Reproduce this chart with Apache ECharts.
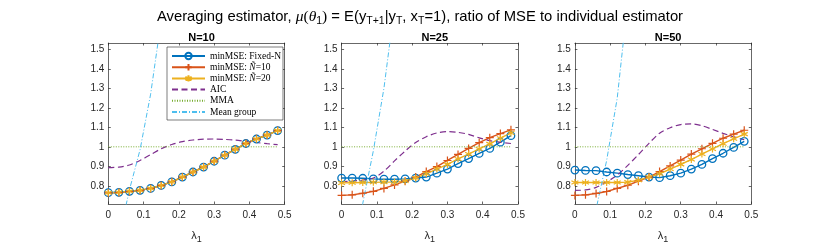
<!DOCTYPE html>
<html>
<head>
<meta charset="utf-8">
<script src="https://cdn.jsdelivr.net/npm/echarts@6/dist/echarts.min.js"></script>
<style>html,body{margin:0;padding:0;background:#fff}#c{width:830px;height:249px}</style>
</head>
<body>
<div id="c"></div>
<script>
// ---- data ----
const lambda = [0,0.03,0.06,0.09,0.12,0.15,0.18,0.21,0.24,0.27,0.30,0.33,0.36,0.39,0.42,0.45,0.48];
const panelTitles = ['N=10','N=25','N=50'];
const xTicks = [0,0.1,0.2,0.3,0.4,0.5];
const yTicks = [0.8,0.9,1.0,1.1,1.2,1.3,1.4,1.5];

const fixedN10 = [0.765,0.767,0.772,0.777,0.787,0.802,0.820,0.845,0.871,0.896,0.926,0.957,0.987,1.017,1.040,1.060,1.083];
const nbar10_10 = [0.764,0.766,0.771,0.777,0.787,0.802,0.821,0.845,0.871,0.897,0.927,0.958,0.988,1.017,1.041,1.061,1.083];
const nbar20_10 = [0.765,0.767,0.772,0.777,0.787,0.802,0.820,0.845,0.871,0.896,0.926,0.957,0.987,1.017,1.040,1.060,1.083];
const aic10 = [0.893,0.896,0.907,0.930,0.960,0.990,1.012,1.027,1.035,1.039,1.040,1.038,1.034,1.028,1.022,1.016,1.011];
const mg10 = [0.30,0.537,0.78,0.985,1.27,1.65];

const fixedN25 = [0.840,0.840,0.839,0.836,0.834,0.834,0.836,0.840,0.845,0.865,0.886,0.914,0.940,0.966,0.992,1.024,1.057];
const nbar10_25 = [0.751,0.754,0.762,0.772,0.787,0.805,0.824,0.845,0.873,0.899,0.930,0.961,0.992,1.021,1.047,1.068,1.087];
const nbar20_25 = [0.815,0.816,0.817,0.818,0.819,0.820,0.825,0.840,0.862,0.886,0.910,0.938,0.963,0.989,1.015,1.044,1.071];
const aic25 = [0.821,0.824,0.830,0.840,0.875,0.928,0.978,1.022,1.052,1.071,1.078,1.074,1.064,1.046,1.032,1.023,1.017];
const mg25 = [0.20,0.45,0.71,0.98,1.30,1.72];

const fixedN50 = [0.881,0.879,0.878,0.871,0.865,0.858,0.852,0.845,0.842,0.852,0.865,0.886,0.910,0.940,0.967,0.997,1.028];
const nbar10_50 = [0.751,0.754,0.761,0.771,0.787,0.803,0.824,0.845,0.873,0.902,0.932,0.963,0.990,1.018,1.044,1.065,1.085];
const nbar20_50 = [0.817,0.817,0.817,0.817,0.817,0.819,0.829,0.845,0.862,0.886,0.910,0.935,0.963,0.989,1.016,1.041,1.065];
const aic50 = [0.777,0.779,0.792,0.820,0.855,0.905,0.960,1.018,1.070,1.098,1.114,1.118,1.108,1.089,1.069,1.051,1.036];
const mg50 = [0.20,0.43,0.68,0.93,1.25,1.75];

const mma = [1,1,1,1,1,1,1,1,1,1,1,1,1,1,1,1,1];

const panels = [
  {fixed: fixedN10, n10: nbar10_10, n20: nbar20_10, aic: aic10, mg: mg10},
  {fixed: fixedN25, n10: nbar10_25, n20: nbar20_25, aic: aic25, mg: mg25},
  {fixed: fixedN50, n10: nbar10_50, n20: nbar20_50, aic: aic50, mg: mg50}
];
const names = ['minMSE: Fixed-N','minMSE: Ñ=10','minMSE: Ñ=20','AIC','MMA','Mean group'];

// ---- style ----
const C = {blue:'#0072BD', red:'#D95319', yellow:'#EDB120', purple:'#7E2F8E', green:'#77AC30', cyan:'#4DBEEE'};
const AX = '#262626';
const FONT = '"Liberation Sans", Arial, Helvetica, sans-serif';
const SERIF = '"Liberation Serif", "Times New Roman", serif';
const lefts = [108.3, 341.6, 574.9];
const W = 176.4, TOP = 43, H = 168.7;
const YMIN = 0.707, YMAX = 1.532;
const CLEAR = 'rgba(0,0,0,0)';

const pair = arr => arr.map((v,i)=>[lambda[i], v]);
const fmt = v => String(+(+v).toFixed(2));

const grids = [], xAxes = [], yAxes = [], series = [], titles = [];
titles.push({
  text: '{a|Averaging estimator, }{m|μ}{p|(}{m|θ}{s|1}{p|)}{a| = E(y}{s|T+1}{a||y}{s|T}{a|, x}{s|T}{a|=1), ratio of MSE to individual estimator}',
  left: 415, top: 2, textAlign: 'center',
  textStyle: {
    fontWeight: 'normal',
    rich: {
      a: {fontFamily: FONT, fontSize: 14.8, fontWeight: 'normal', color: '#000', lineHeight: 20},
      m: {fontFamily: SERIF, fontStyle: 'italic', fontWeight: 'normal', fontSize: 15.5, color: '#000', lineHeight: 20},
      p: {fontFamily: SERIF, fontSize: 15.5, fontWeight: 'normal', color: '#000', lineHeight: 20},
      s: {fontFamily: FONT, fontSize: 10.5, fontWeight: 'normal', color: '#000', lineHeight: 20, padding: [9,0,0,0]}
    }
  }
});

const symPlus = 'path://M0,-1L0,1M-1,0L1,0';
const symStar = 'path://M0,-1L0,1M-0.866,-0.5L0.866,0.5M-0.866,0.5L0.866,-0.5';

for (let k = 0; k < 3; k++) {
  grids.push({left: lefts[k], top: TOP, width: W, height: H, containLabel: false});
  titles.push({text: panelTitles[k], left: lefts[k] + W/2, top: 27, textAlign: 'center',
    textStyle: {fontFamily: FONT, fontSize: 11, fontWeight: 'bold', color: '#000'}});
}
const axLine = {show: true, onZero: false, lineStyle: {color: AX, width: 0.7}};
for (let k = 0; k < 3; k++) {
  xAxes.push({type: 'value', gridIndex: k, min: 0, max: 0.5, position: 'bottom',
    axisLine: axLine, splitLine: {show: false},
    axisTick: {show: true, inside: true, length: 2.5, lineStyle: {color: AX, width: 0.7}, customValues: xTicks},
    axisLabel: {color: AX, fontFamily: FONT, fontSize: 10, margin: 6, customValues: xTicks, formatter: fmt, showMaxLabel: true, showMinLabel: true},
    name: '{l|λ}{s|1}', nameLocation: 'middle', nameGap: 24,
    nameTextStyle: {rich: {l: {fontFamily: FONT, fontSize: 11, color: AX, lineHeight: 16}, s: {fontFamily: FONT, fontSize: 9, color: AX, lineHeight: 16, padding: [7,0,0,0]}}}
  });
}
for (let k = 0; k < 3; k++) {
  xAxes.push({type: 'value', gridIndex: k, min: 0, max: 0.5, position: 'top',
    axisLine: axLine, splitLine: {show: false},
    axisTick: {show: true, inside: true, length: 2.5, lineStyle: {color: AX, width: 0.7}, customValues: xTicks},
    axisLabel: {show: false}});
}
for (let k = 0; k < 3; k++) {
  yAxes.push({type: 'value', gridIndex: k, min: YMIN, max: YMAX, position: 'left',
    axisLine: axLine, splitLine: {show: false},
    axisTick: {show: true, inside: true, length: 2.5, lineStyle: {color: AX, width: 0.7}, customValues: yTicks},
    axisLabel: {color: AX, fontFamily: FONT, fontSize: 10, margin: 4, customValues: yTicks, formatter: fmt}});
}
for (let k = 0; k < 3; k++) {
  yAxes.push({type: 'value', gridIndex: k, min: YMIN, max: YMAX, position: 'right',
    axisLine: axLine, splitLine: {show: false},
    axisTick: {show: true, inside: true, length: 2.5, lineStyle: {color: AX, width: 0.7}, customValues: yTicks},
    axisLabel: {show: false}});
}

for (let k = 0; k < 3; k++) {
  const p = panels[k];
  const base = {type: 'line', xAxisIndex: k, yAxisIndex: k, animation: false, clip: true, silent: true};
  series.push(Object.assign({}, base, {name: names[0], data: pair(p.fixed),
    symbol: 'circle', symbolSize: 7.5, showSymbol: true,
    lineStyle: {color: C.blue, width: 1.4},
    itemStyle: {color: CLEAR, borderColor: C.blue, borderWidth: 1.3}}));
  series.push(Object.assign({}, base, {name: names[1], data: pair(p.n10),
    symbol: symPlus, symbolSize: 8, showSymbol: true,
    lineStyle: {color: C.red, width: 1.4},
    itemStyle: {color: CLEAR, borderColor: C.red, borderWidth: 1.2}}));
  series.push(Object.assign({}, base, {name: names[2], data: pair(p.n20),
    symbol: symStar, symbolSize: 7, showSymbol: true,
    lineStyle: {color: C.yellow, width: 1.4},
    itemStyle: {color: CLEAR, borderColor: C.yellow, borderWidth: 1.2}}));
  series.push(Object.assign({}, base, {name: names[3], data: pair(p.aic), smooth: 0.3,
    symbol: 'circle', symbolSize: 0, showSymbol: false,
    lineStyle: {color: C.purple, width: 1.2, type: [6,3.5]}, itemStyle: {color: CLEAR, borderWidth: 0}}));
  series.push(Object.assign({}, base, {name: names[4], data: pair(mma),
    symbol: 'circle', symbolSize: 0, showSymbol: false,
    lineStyle: {color: C.green, width: 1, type: [1,1.5]}, itemStyle: {color: CLEAR, borderWidth: 0}}));
  series.push(Object.assign({}, base, {name: names[5], data: pair(p.mg),
    symbol: 'circle', symbolSize: 0, showSymbol: false,
    lineStyle: {color: C.cyan, width: 1, type: [5,2,1,2]}, itemStyle: {color: CLEAR, borderWidth: 0}}));
}

const chart = echarts.init(document.getElementById('c'), null, {renderer: 'canvas'});
chart.setOption({
  backgroundColor: '#fff',
  animation: false,
  title: titles,
  grid: grids,
  xAxis: xAxes,
  yAxis: yAxes,
  legend: {
    data: names,
    orient: 'vertical',
    left: 167, top: 47,
    padding: [4, 2, 3, 4],
    itemWidth: 33, itemHeight: 8, itemGap: 1.2,
    backgroundColor: '#fff',
    borderColor: AX, borderWidth: 0.6, borderRadius: 0,
    selectedMode: false,
    formatter: function (name) {
      if (name.indexOf('Ñ') >= 0) {
        const parts = name.split('Ñ');
        return '{r|' + parts[0] + '}{i|Ñ}{r|' + parts[1] + '}';
      }
      return '{r|' + name + '}';
    },
    textStyle: {
      fontFamily: SERIF, fontSize: 9.5, color: '#000', lineHeight: 10,
      rich: {
        r: {fontFamily: SERIF, fontSize: 9.5, color: '#000', lineHeight: 10},
        i: {fontFamily: SERIF, fontStyle: 'italic', fontSize: 9.5, color: '#000', lineHeight: 10}
      }
    }
  },
  series: series
});
</script>
</body>
</html>
